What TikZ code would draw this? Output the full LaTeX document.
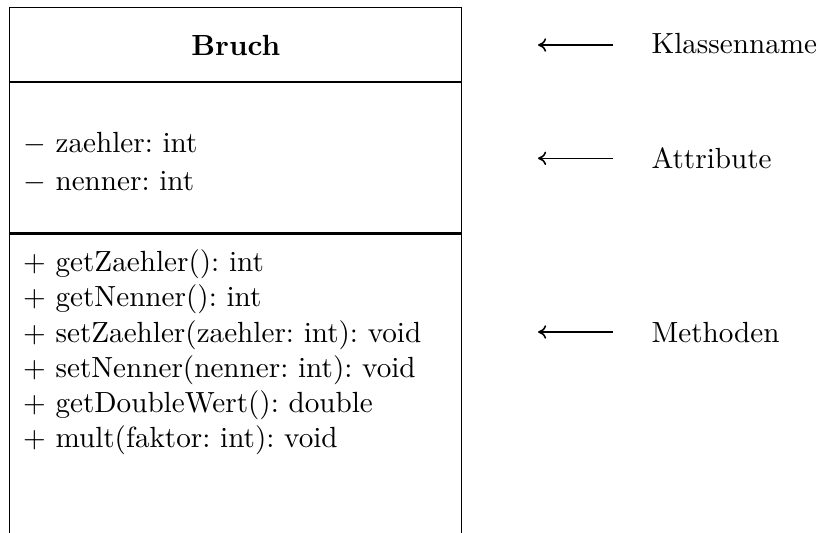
\documentclass[tikz,border=0pt]{standalone}
\usetikzlibrary{arrows.meta}
\begin{document}
\frenchspacing
\begin{tikzpicture}[x=0.3429pt,y=-0.3429pt,
  boxline/.style={line width=0.4pt},
  divider/.style={line width=0.8pt},
  member/.style={anchor=base west,inner sep=0pt},
  label/.style={anchor=base west,inner sep=0pt},
  pointer/.style={-{To[length=2.8pt,width=4.6pt]},line width=0.55pt}]
\useasboundingbox (0,0) rectangle (818,533);
% class box (open at the bottom)
\draw[boxline] (9.5,540) -- (9.5,7.7) -- (461.7,7.7) -- (461.7,540);
\draw[divider] (9.5,82.2) -- (461.7,82.2);
\draw[divider] (9.5,233.5) -- (461.7,233.5);
% class name
\node[anchor=base,inner sep=0pt,font=\bfseries] (name) at (235.8,55) {Bruch};
% attributes
\node[member] (a1) at (22.6,152) {$-$ zaehler: int};
\node[member] (a2) at (22.6,190) {$-$ nenner: int};
% methods
\node[member] (m1) at (22.6,271.7) {$+$ getZaehler(): int};
\node[member] (m2) at (22.6,306.9) {$+$ getNenner(): int};
\node[member] (m3) at (22.6,342.1) {$+$ setZaehler(zaehler: int): void};
\node[member] (m4) at (22.6,377.3) {$+$ setNenner(nenner: int): void};
\node[member] (m5) at (22.6,412.5) {$+$ getDoubleWert(): double};
\node[member] (m6) at (22.6,447.7) {$+$ mult(faktor: int): void};
% labels
\node[label] (lk) at (651,54) {Klassenname};
\node[label] (la) at (651,168.5) {Attribute};
\node[label] (lm) at (651,342.5) {Methoden};
% pointers
\coordinate (k1) at (613,45);   \coordinate (k2) at (538,45);
\coordinate (t1) at (613,158.3); \coordinate (t2) at (538,158.3);
\coordinate (h1) at (613,332);  \coordinate (h2) at (538,332);
\draw[pointer] (k1) -- (k2);
\draw[pointer] (t1) -- (t2);
\draw[pointer] (h1) -- (h2);
\end{tikzpicture}
\end{document}
